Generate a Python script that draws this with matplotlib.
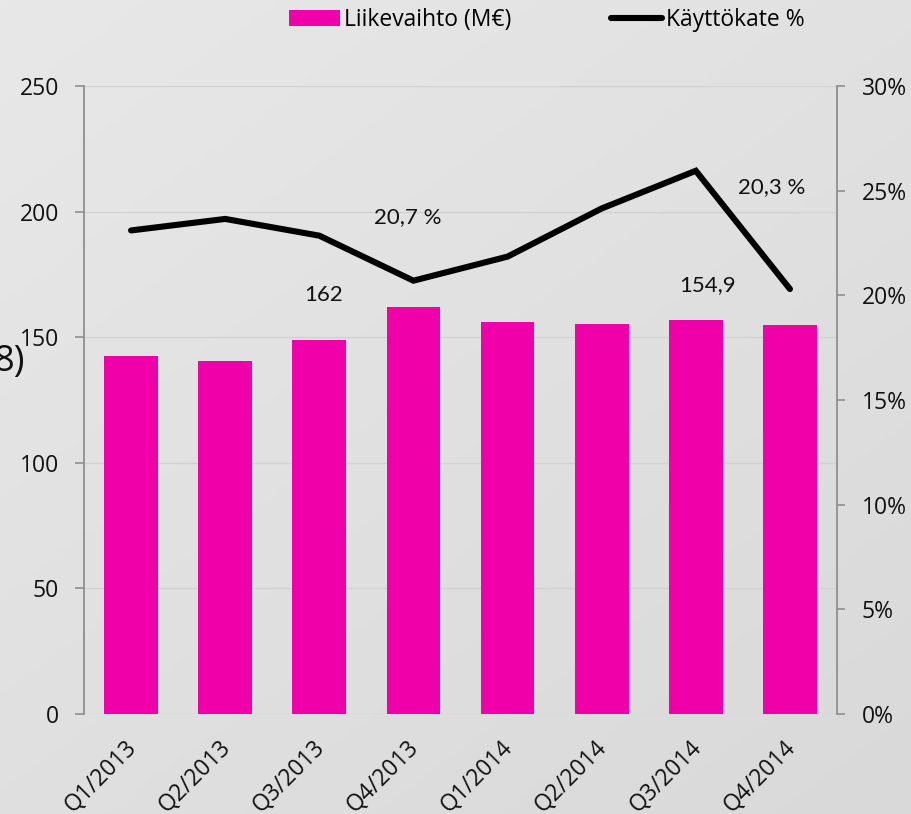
import numpy as np
import matplotlib
matplotlib.use('Agg')
import matplotlib.pyplot as plt
from matplotlib.ticker import FuncFormatter

# ─── DATA ────────────────────────────────────────────────────────────────
quarters = ["Q1/2013", "Q2/2013", "Q3/2013", "Q4/2013",
            "Q1/2014", "Q2/2014", "Q3/2014", "Q4/2014"]
revenue = [142.4, 140.6, 148.9, 162.0, 155.9, 155.3, 156.9, 154.9]   # M€
ebitda_pct = [23.1, 23.65, 22.85, 20.7, 21.85, 24.15, 25.95, 20.3]   # %

rev_labels = {3: "162", 7: "154,9"}
pct_labels = {3: "20,7 %", 7: "20,3 %"}

MAGENTA = '#f000a8'
GRID = '#d2d2d2'
SPINE = '#8f8f8f'
TXT = '#111111'

plt.rcParams['font.family'] = ['Open Sans', 'DejaVu Sans']

fig = plt.figure(figsize=(9.12, 8.14), dpi=100)

# background gradient
bg = fig.add_axes([0, 0, 1, 1], zorder=-10)
gx, gy = np.meshgrid(np.linspace(0, 1, 200), np.linspace(0, 1, 200))
grad = 0.55 * gy + 0.45 * gx
bg.imshow(grad, cmap=matplotlib.colors.LinearSegmentedColormap.from_list(
    'bg', ['#e8e8e8', '#d9d9d9']), aspect='auto', extent=[0, 1, 0, 1], origin='upper')
bg.axis('off')

ax = fig.add_axes([84/912, 1 - 714/814, (837-84)/912, (714-86)/814])
ax.patch.set_alpha(0)
x = np.arange(len(quarters))

ax.bar(x, revenue, width=0.57, color=MAGENTA, zorder=3, label='Liikevaihto (M€)')
ax.set_xlim(-0.5, len(quarters) - 0.5)
ax.set_ylim(0, 250)
ax.set_yticks(np.arange(0, 251, 50))
ax.yaxis.grid(True, color=GRID, lw=1.0, zorder=0)
ax.set_axisbelow(True)
for s in ['top', 'bottom', 'right']:
    ax.spines[s].set_visible(False)
ax.spines['left'].set_color(SPINE)
ax.spines['left'].set_linewidth(1.3)
ax.tick_params(axis='y', length=6.5, width=1.2, color=SPINE, labelsize=16.5,
               labelcolor=TXT, pad=11.5)
ax.tick_params(axis='x', length=0, pad=22)
ax.set_xticks(x)
ax.set_xticklabels(quarters, rotation=45, ha='right', va='center',
                   rotation_mode='anchor', fontsize=16.5, color=TXT)
for lbl in ax.get_xticklabels():
    lbl.set_transform(lbl.get_transform() + matplotlib.transforms.ScaledTranslation(0.02, 0, fig.dpi_scale_trans))

ax2 = ax.twinx()
ax2.plot(x, np.array(ebitda_pct) / 100, color='black', lw=4.4,
         solid_capstyle='round', solid_joinstyle='miter', zorder=5, label='Käyttökate %')
ax2.set_ylim(0, 0.30)
ax2.set_yticks(np.arange(0, 0.301, 0.05))
ax2.yaxis.set_major_formatter(FuncFormatter(lambda v, p: f"{v*100:.0f}%"))
for s in ['top', 'bottom', 'left']:
    ax2.spines[s].set_visible(False)
ax2.spines['right'].set_color(SPINE)
ax2.spines['right'].set_linewidth(1.3)
ax2.tick_params(axis='y', length=5.5, width=1.2, color=SPINE, labelsize=16.5,
                labelcolor=TXT, pad=12.5)

# data labels (placed as in original slide)
ax.text(2.05, 166.9, rev_labels[3], ha='center', va='center', fontsize=16,
        family='Lato', color=TXT, zorder=6)
ax.text(6.12, 170.9, rev_labels[7], ha='center', va='center', fontsize=16,
        family='Lato', color=TXT, zorder=6)
ax2.text(2.94, 0.2376, pct_labels[3], ha='center', va='center', fontsize=16,
         family='Lato', color=TXT, zorder=6)
ax2.text(6.81, 0.2519, pct_labels[7], ha='center', va='center', fontsize=16,
         family='Lato', color=TXT, zorder=6)

# legend
h1, l1 = ax.get_legend_handles_labels()
h2, l2 = ax2.get_legend_handles_labels()
fig.legend(h1 + h2, l1 + l2, loc='center', bbox_to_anchor=(547/912, 1 - 20/814),
           ncol=2, frameon=False, fontsize=16.5, handlelength=2.2,
           handletextpad=0.2, columnspacing=4.35, borderaxespad=0)

# cut-off text fragment on left edge of the slide
fig.text(25/912, 1 - 362/814, "8)", ha='right', va='center', fontsize=26, color=TXT)

fig.savefig('out.png', dpi=100)
